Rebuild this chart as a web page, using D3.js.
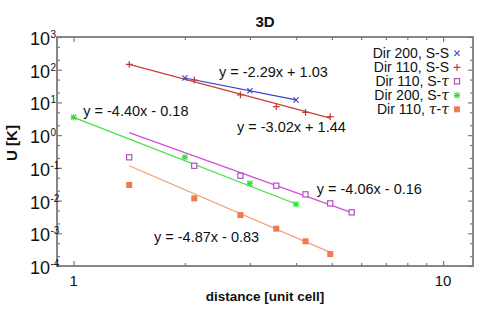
<!DOCTYPE html>
<html>
<head>
<meta charset="utf-8">
<script src="https://cdn.jsdelivr.net/npm/d3@7"></script>
<style>
  body { margin: 0; background: #fff; }
  text { font-family: "Liberation Sans", Arial, sans-serif; fill: #111; }
</style>
</head>
<body>
<svg id="chart" width="491" height="309"></svg>
<script>
// values (distance in unit cells, U in K)
var dir200SS_x = [2, 3, 4];
var dir200SS_y = [55.8, 22.8, 11.9];
var dir110SS_x = [1.414, 2.121, 2.828, 3.536, 4.243, 4.950];
var dir110SS_y = [146, 48.4, 16.9, 7.4, 4.99, 3.66];
var dir110ST_x = [1.414, 2.121, 2.828, 3.536, 4.243, 4.950, 5.657];
var dir110ST_y = [0.21, 0.116, 0.0575, 0.0285, 0.0155, 0.0082, 0.00436];
var dir200ST_x = [1, 2, 3, 4];
var dir200ST_y = [3.5, 0.21, 0.0336, 0.0077];
var dir110TT_x = [1.414, 2.121, 2.828, 3.536, 4.243, 4.950];
var dir110TT_y = [0.0299, 0.0117, 0.00361, 0.00138, 0.00057, 0.000232];

// fitted lines: end points [distance, U]
var fit200SS = [[2, 55.8], [4, 11.9]];
var fit110SS = [[1.414, 146], [4.95, 3.33]];
var fit110ST = [[1.414, 1.19], [5.657, 0.00427]];
var fit200ST = [[1, 3.5], [4, 0.00787]];
var fit110TT = [[1.414, 0.116], [4.95, 0.00026]];

var seriesNames = ["Dir 200, S-S", "Dir 110, S-S", "Dir 110, S-\u03C4", "Dir 200, S-\u03C4", "Dir 110, \u03C4-\u03C4"];

// equation labels and where they sit (data coords)
var eqTexts = ["y = -2.29x + 1.03", "y = -3.02x + 1.44", "y = -4.40x - 0.18", "y = -4.06x - 0.16", "y = -4.87x - 0.83"];
var eqAt = [[2.475, 59.8], [2.768, 1.274], [1.062, 3.98], [4.55, 0.0162], [1.65, 0.00056]];

var xMajor = [1, 10];
var xMinor = [2, 3, 4, 5, 6, 7, 8, 9];
var yExp = [-4, -3, -2, -1, 0, 1, 2, 3];

var series = [
    { x: dir200SS_x, y: dir200SS_y, fit: fit200SS, marker: "x", color: "#4545b8", line: "#3b3bc8" },
    { x: dir110SS_x, y: dir110SS_y, fit: fit110SS, marker: "plus", color: "#c03a35", line: "#c8403a" },
    { x: dir110ST_x, y: dir110ST_y, fit: fit110ST, marker: "osq", color: "#b040b8", line: "#d050d8" },
    { x: dir200ST_x, y: dir200ST_y, fit: fit200ST, marker: "star", color: "#33dd33", line: "#44e044" },
    { x: dir110TT_x, y: dir110TT_y, fit: fit110TT, marker: "fsq", color: "#f07a50", line: "#f0a075" }
];

var svg = d3.select("#chart"),
    margin = { top: 37, left: 57, bottom: 43, right: 18 },
    width = +svg.attr("width"),
    height = +svg.attr("height");

var x = d3.scaleLog().domain([0.9016, 12.05]).range([margin.left, width - margin.right]);
var y = d3.scaleLog().domain([1e-4, 1e3]).range([height - margin.bottom, margin.top]);

var axisColor = "#7a7a7a";

// minor y ticks at 2x and 5x of each decade
var yMinor = [];
yExp.slice(0, -1).forEach(function (e) {
    yMinor.push(2 * Math.pow(10, e), 5 * Math.pow(10, e));
});
var yMajor = yExp.map(function (e) { return Math.pow(10, e); });

function tickAxis(axis, pos, vals, size) {
    var g = svg.append("g")
        .attr("transform", pos)
        .call(axis.tickValues(vals).tickSize(size).tickFormat(""));
    g.select(".domain").remove();
    g.selectAll("line").attr("stroke", axisColor).attr("stroke-width", 1.2);
}

var bottom = height - margin.bottom, right = width - margin.right;
tickAxis(d3.axisBottom(x), `translate(0,${bottom})`, xMajor, -5);
tickAxis(d3.axisBottom(x), `translate(0,${bottom})`, xMinor, -3);
tickAxis(d3.axisTop(x), `translate(0,${margin.top})`, xMajor, -5);
tickAxis(d3.axisTop(x), `translate(0,${margin.top})`, xMinor, -3);
tickAxis(d3.axisLeft(y), `translate(${margin.left},0)`, yMajor, -5);
tickAxis(d3.axisLeft(y), `translate(${margin.left},0)`, yMinor, -3);
tickAxis(d3.axisRight(y), `translate(${right},0)`, yMajor, -5);
tickAxis(d3.axisRight(y), `translate(${right},0)`, yMinor, -3);

// frame
svg.append("rect")
    .attr("x", margin.left)
    .attr("y", margin.top)
    .attr("width", right - margin.left)
    .attr("height", bottom - margin.top)
    .attr("fill", "none")
    .attr("stroke", axisColor)
    .attr("stroke-width", 1.8);

// x tick labels
svg.selectAll(".xlab")
    .data(xMajor)
    .enter().append("text")
    .attr("class", "xlab")
    .attr("x", d => x(d))
    .attr("y", bottom + 20)
    .attr("text-anchor", "middle")
    .style("font-size", "15px")
    .text(d => d);

// y tick labels 10^n
var ylab = svg.selectAll(".ylab")
    .data(yExp)
    .enter().append("g")
    .attr("class", "ylab");

ylab.append("text")
    .attr("x", margin.left - 7)
    .attr("y", d => y(Math.pow(10, d)) + 8)
    .attr("text-anchor", "end")
    .style("font-size", "18px")
    .text("10");

ylab.append("text")
    .attr("x", margin.left - 6.5)
    .attr("y", d => y(Math.pow(10, d)) + 1)
    .style("font-size", "10px")
    .text(d => d);

// title and axis titles
svg.append("text")
    .attr("x", (margin.left + right) / 2)
    .attr("y", 27)
    .attr("text-anchor", "middle")
    .style("font-size", "15px")
    .style("font-weight", "bold")
    .text("3D");

svg.append("text")
    .attr("x", (margin.left + right) / 2)
    .attr("y", 301)
    .attr("text-anchor", "middle")
    .style("font-size", "13.5px")
    .style("font-weight", "bold")
    .text("distance [unit cell]");

svg.append("text")
    .attr("transform", "translate(17,143) rotate(-90)")
    .attr("text-anchor", "middle")
    .style("font-size", "15px")
    .style("font-weight", "bold")
    .text("U [K]");

// fit lines
var line = d3.line().x(d => x(d[0])).y(d => y(d[1]));

svg.selectAll(".fit")
    .data(series)
    .enter().append("path")
    .attr("class", "fit")
    .attr("d", d => line(d.fit))
    .attr("fill", "none")
    .attr("stroke", d => d.line)
    .attr("stroke-width", 1.2);

// markers
function drawMarker(g, type, color) {
    var r = 2.6;
    if (type == "x" || type == "star") {
        g.append("path").attr("d", `M${-r},${-r}L${r},${r}M${-r},${r}L${r},${-r}`)
            .attr("stroke", color).attr("stroke-width", 1.2);
    }
    if (type == "plus" || type == "star") {
        var p = type == "plus" ? 3.4 : 3;
        g.append("path").attr("d", `M${-p},0L${p},0M0,${-p}L0,${p}`)
            .attr("stroke", color).attr("stroke-width", 1.2);
    }
    if (type == "osq") {
        g.append("rect").attr("x", -2.6).attr("y", -2.6).attr("width", 5.2).attr("height", 5.2)
            .attr("fill", "#fff").attr("stroke", color).attr("stroke-width", 1.1);
    }
    if (type == "fsq") {
        g.append("rect").attr("x", -3).attr("y", -3).attr("width", 6).attr("height", 6)
            .attr("fill", color);
    }
}

series.forEach(function (s) {
    s.x.forEach(function (xv, i) {
        var g = svg.append("g").attr("transform", `translate(${x(xv)},${y(s.y[i])})`);
        drawMarker(g, s.marker, s.color);
    });
});

// equations
svg.selectAll(".eq")
    .data(eqTexts)
    .enter().append("text")
    .attr("class", "eq")
    .attr("x", (d, i) => x(eqAt[i][0]))
    .attr("y", (d, i) => y(eqAt[i][1]))
    .style("font-size", "14.5px")
    .text(d => d);

// legend
var legend = svg.selectAll(".legend")
    .data(seriesNames)
    .enter().append("g")
    .attr("class", "legend")
    .attr("transform", (d, i) => `translate(0,${53.3 + i * 14})`);

legend.append("text")
    .attr("x", 449)
    .attr("y", 5)
    .attr("text-anchor", "end")
    .style("font-size", "14px")
    .each(function (d) {
        var t = d3.select(this);
        d.split(/(\u03C4)/).forEach(function (part) {
            if (!part) return;
            var sp = t.append("tspan").text(part);
            if (part == "\u03C4") sp.style("font-style", "italic").style("font-family", "DejaVu Serif, serif");
        });
    });

legend.each(function (d, i) {
    var g = d3.select(this).append("g").attr("transform", "translate(457,0)");
    drawMarker(g, series[i].marker, series[i].color);
});
</script>
</body>
</html>
